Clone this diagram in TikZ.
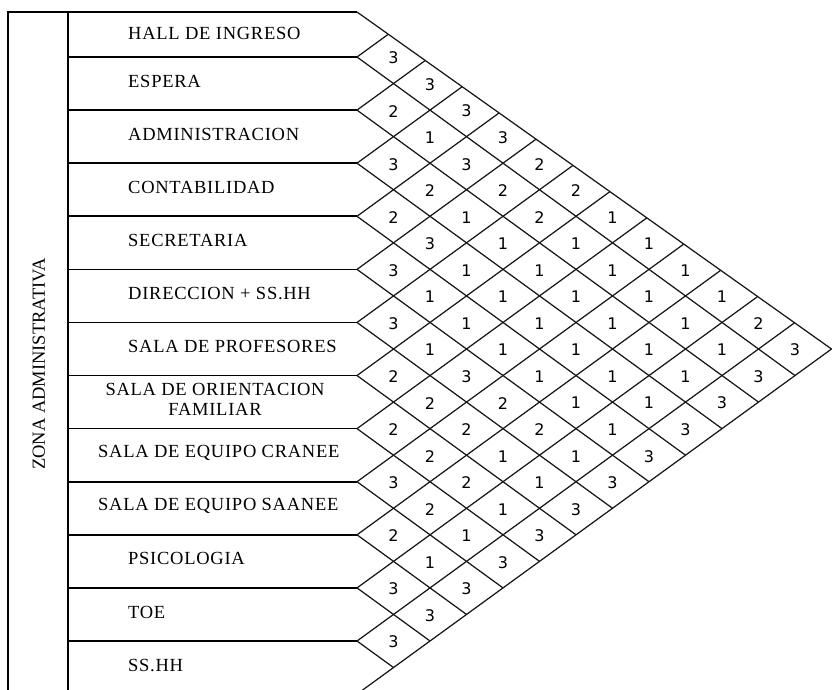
\documentclass[tikz,border=0pt]{standalone}
\usepackage{fontspec}
\setmainfont{Liberation Serif}
\newfontfamily\lblfont[LetterSpace=4]{Liberation Serif}
\newfontfamily\digfont{DejaVu Sans}
\begin{document}
\begin{tikzpicture}[x=1pt,y=-1pt,
  frame/.style={line width=1.7pt, draw=black},
  lattice/.style={line width=1.25pt, draw=black!90},
  lbl/.style={font=\lblfont\fontsize{18.5}{20}\selectfont, anchor=west, inner sep=0pt},
  lblc/.style={font=\lblfont\fontsize{18.5}{20}\selectfont, align=center, inner sep=0pt},
  zone/.style={font=\fontsize{18.5}{20}\selectfont, rotate=90, inner sep=0pt},
  num/.style={font=\digfont\fontsize{16}{16}\selectfont, inner sep=0pt}]
\useasboundingbox (0,0) rectangle (838,689);
\pgfmathsetmacro{\W}{36.5}
\pgfmathsetmacro{\H}{53.09}
\begin{scope}
\clip (0,0) rectangle (838,689);
% key points
\coordinate (P0) at (357,12);
\coordinate (TL) at (8,12);
\coordinate (TI) at (68,12);
\coordinate (BL) at (8,700);
\coordinate (BI) at (68,700);
\foreach \k in {1,...,13}{
  \coordinate (P\k) at (357,{57+\H*(\k-1)});
  \coordinate (L\k) at (68,{57+\H*(\k-1)});
}
\coordinate (apex) at ({357+13*\W},{57+\H*5.5});
% frame
\draw[frame] (BL) -- (TL) -- (P0);
\draw[frame] (TI) -- (BI);
\foreach \k in {1,...,12}{
  \draw[frame] (L\k) -- (P\k);
}
% lattice
\draw[lattice] (P0) -- (apex);
\draw[lattice] (P13) -- (apex);
\foreach \k in {1,...,12}{
  \coordinate (D\k) at ({357+(13-\k)*\W},{57+\H*(\k-1)+(13-\k)*\H/2});
  \coordinate (U\k) at ({357+\k*\W},{57+\H*(\k-1)-\k*\H/2});
  \draw[lattice] (P\k) -- (D\k);
  \draw[lattice] (P\k) -- (intersection of P0--apex and P\k--U\k);
}
% numbers
\foreach \k/\vals in {
  1/{3,2,3,2,3,3,2,2,3,2,3,3},
  2/{3,1,2,3,1,1,2,2,2,1,3},
  3/{3,3,1,1,1,3,2,2,1,3},
  4/{3,2,1,1,1,2,1,1,3},
  5/{2,2,1,1,1,2,1,3},
  6/{2,1,1,1,1,1,3},
  7/{1,1,1,1,1,3},
  8/{1,1,1,1,3},
  9/{1,1,1,3},
  10/{1,1,3},
  11/{2,3},
  12/{3}}{
  \foreach \v [count=\i] in \vals {
    \node[num] (n\k-\i) at ({357+\k*\W},{58+\H*(2*\i+\k-3)/2}) {\v};
  }
}
% labels
\node[lbl] (r1) at (128,33) {HALL DE INGRESO};
\node[lbl] (r2) at (128,{28+\H*1}) {ESPERA};
\node[lbl] (r3) at (128,{28+\H*2}) {ADMINISTRACION};
\node[lbl] (r4) at (128,{28+\H*3}) {CONTABILIDAD};
\node[lbl] (r5) at (128,{28+\H*4}) {SECRETARIA};
\node[lbl] (r6) at (128,{28+\H*5}) {DIRECCION + SS.HH};
\node[lbl] (r7) at (128,{28+\H*6}) {SALA DE PROFESORES};
\node[lblc] (r8) at (215,{28+\H*7}) {SALA DE ORIENTACION\\FAMILIAR};
\node[lbl] (r9) at (98,{28+\H*8}) {SALA DE EQUIPO CRANEE};
\node[lbl] (r10) at (98,{28+\H*9}) {SALA DE EQUIPO SAANEE};
\node[lbl] (r11) at (128,{28+\H*10}) {PSICOLOGIA};
\node[lbl] (r12) at (128,{28+\H*11}) {TOE};
\node[lbl] (r13) at (128,{28+\H*12}) {SS.HH};
\node[zone] (zona) at (39,364) {ZONA ADMINISTRATIVA};
\end{scope}
\end{tikzpicture}
\end{document}
